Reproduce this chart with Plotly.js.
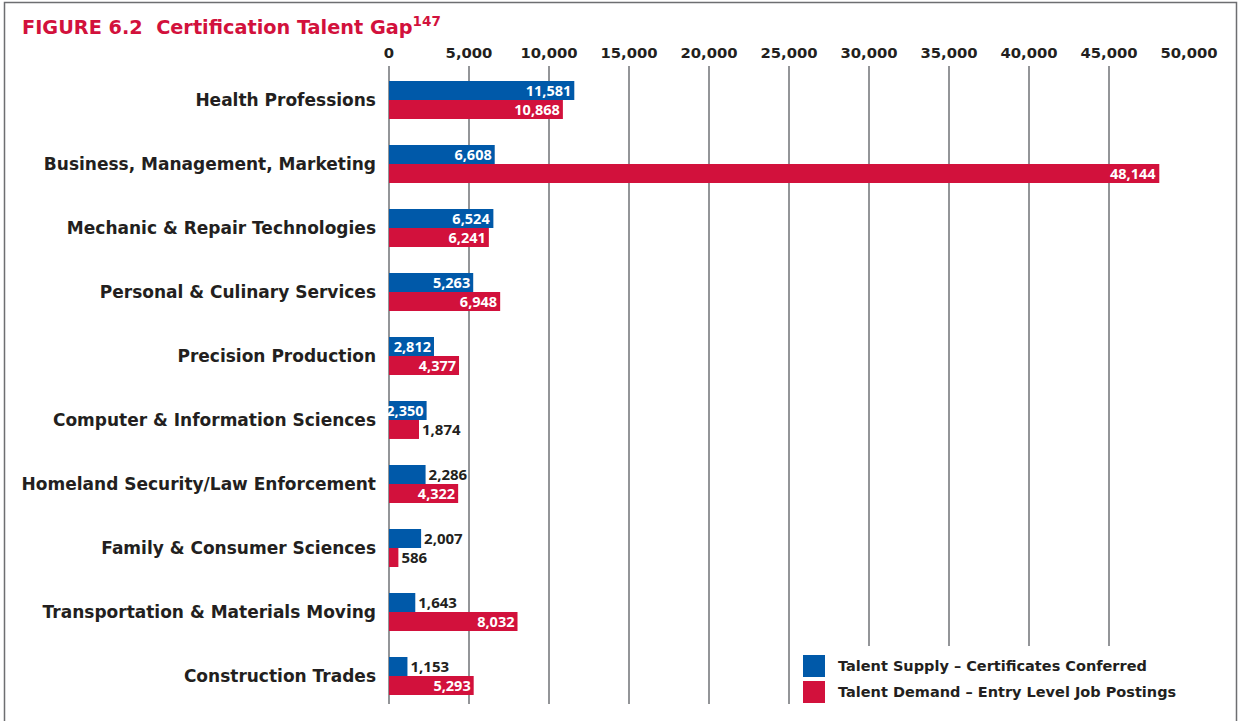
<!DOCTYPE html>
<html>
<head>
<meta charset="utf-8">
<script src="https://cdn.plot.ly/plotly-3.0.1.min.js"></script>
<style>
html,body{margin:0;padding:0;background:#fff;}
#chart{width:1241px;height:721px;}
</style>
</head>
<body>
<div id="chart"></div>
<script>
// ---- data ----
const categories = [
  "Health Professions",
  "Business, Management, Marketing",
  "Mechanic & Repair Technologies",
  "Personal & Culinary Services",
  "Precision Production",
  "Computer & Information Sciences",
  "Homeland Security/Law Enforcement",
  "Family & Consumer Sciences",
  "Transportation & Materials Moving",
  "Construction Trades"
];
const supplyValues = [11581, 6608, 6524, 5263, 2812, 2350, 2286, 2007, 1643, 1153];
const demandValues = [10868, 48144, 6241, 6948, 4377, 1874, 4322, 586, 8032, 5293];
const supplyName = "Talent Supply \u2013 Certificates Conferred";
const demandName = "Talent Demand \u2013 Entry Level Job Postings";
const tickValues = [0, 5000, 10000, 15000, 20000, 25000, 30000, 35000, 40000, 45000, 50000];
const tickLabels = ["0", "5,000", "10,000", "15,000", "20,000", "25,000", "30,000", "35,000", "40,000", "45,000", "50,000"];
const titleText = "FIGURE 6.2  Certification Talent Gap<sup>147</sup>";

// ---- style ----
const BLUE = "#0059a9";
const RED = "#d2113c";
const DARK = "#231f20";
const FONT = "DejaVu Sans";
const LABEL_FONT = "Open Sans";
const W = 1241, H = 721;
const M = {l: 389, r: 52, t: 66, b: 17};
const PW = W - M.l - M.r, PH = H - M.t - M.b;
const px = x => (x - M.l) / PW;          // pixel -> paper x
const py = y => (H - M.b - y) / PH;       // pixel -> paper y

const pos = v => v > 2300 ? "inside" : "outside";

function barTrace(vals, name, color) {
  return {
    type: "bar",
    orientation: "h",
    y: categories,
    x: vals,
    name: name,
    marker: {color: color, line: {width: 0}},
    texttemplate: "%{x:,}",
    textposition: vals.map(pos),
    insidetextanchor: "end",
    textangle: 0,
    constraintext: "none",
    cliponaxis: false,
    insidetextfont: {family: LABEL_FONT, size: 14.5, color: "#ffffff", weight: 700},
    outsidetextfont: {family: LABEL_FONT, size: 15, color: DARK, weight: 700},
    hoverinfo: "x+name",
    showlegend: false
  };
}

const data = [
  barTrace(supplyValues, supplyName, BLUE),
  barTrace(demandValues, demandName, RED)
];

const shapes = [
  // outer frame
  {type: "rect", xref: "paper", yref: "paper", layer: "above",
   x0: px(4.5), x1: px(1236.5), y0: py(2.5), y1: py(730),
   line: {color: "#6d6e71", width: 1.5}, fillcolor: "rgba(0,0,0,0)"},
  // legend backdrop
  {type: "rect", xref: "paper", yref: "paper", layer: "above",
   x0: px(795), x1: px(1184), y0: py(706), y1: py(646),
   line: {width: 0}, fillcolor: "#ffffff"},
  // legend swatches
  {type: "rect", xref: "paper", yref: "paper", layer: "above",
   x0: px(803), x1: px(825), y0: py(677), y1: py(655),
   line: {width: 0}, fillcolor: BLUE},
  {type: "rect", xref: "paper", yref: "paper", layer: "above",
   x0: px(803), x1: px(825), y0: py(703), y1: py(681),
   line: {width: 0}, fillcolor: RED}
];

const annotations = [
  {text: supplyName, xref: "paper", yref: "paper", x: px(836), y: py(666),
   xanchor: "left", yanchor: "middle", showarrow: false,
   font: {family: FONT, size: 14.5, color: DARK, weight: 700}},
  {text: demandName, xref: "paper", yref: "paper", x: px(836), y: py(692),
   xanchor: "left", yanchor: "middle", showarrow: false,
   font: {family: FONT, size: 14.5, color: DARK, weight: 700}}
];

const layout = {
  width: W, height: H,
  margin: M,
  paper_bgcolor: "#ffffff",
  plot_bgcolor: "#ffffff",
  font: {family: FONT, color: DARK},
  title: {
    text: titleText,
    xref: "container", x: 22 / W, xanchor: "left",
    yref: "container", y: 1 - 27 / H, yanchor: "middle",
    font: {family: FONT, size: 19.3, color: RED, weight: 700}
  },
  barmode: "group",
  bargap: 0.406,
  bargroupgap: 0,
  showlegend: false,
  xaxis: {
    side: "top",
    range: [0, 50000],
    tickvals: tickValues,
    ticktext: tickLabels,
    showgrid: true,
    gridcolor: "#939598",
    gridwidth: 1.5,
    zeroline: true,
    zerolinecolor: "#939598",
    zerolinewidth: 1.5,
    showline: false,
    ticks: "",
    ticklabelstandoff: 4,
    tickfont: {family: FONT, size: 14.8, color: DARK, weight: 700},
    fixedrange: true
  },
  yaxis: {
    type: "category",
    range: [9.4375, -0.53],
    showgrid: false,
    zeroline: false,
    showline: false,
    ticks: "",
    ticklabelstandoff: 12,
    tickfont: {family: FONT, size: 17, color: DARK, weight: 700},
    fixedrange: true
  },
  shapes: shapes,
  annotations: annotations
};

Plotly.newPlot("chart", data, layout, {displayModeBar: false});
</script>
</body>
</html>
